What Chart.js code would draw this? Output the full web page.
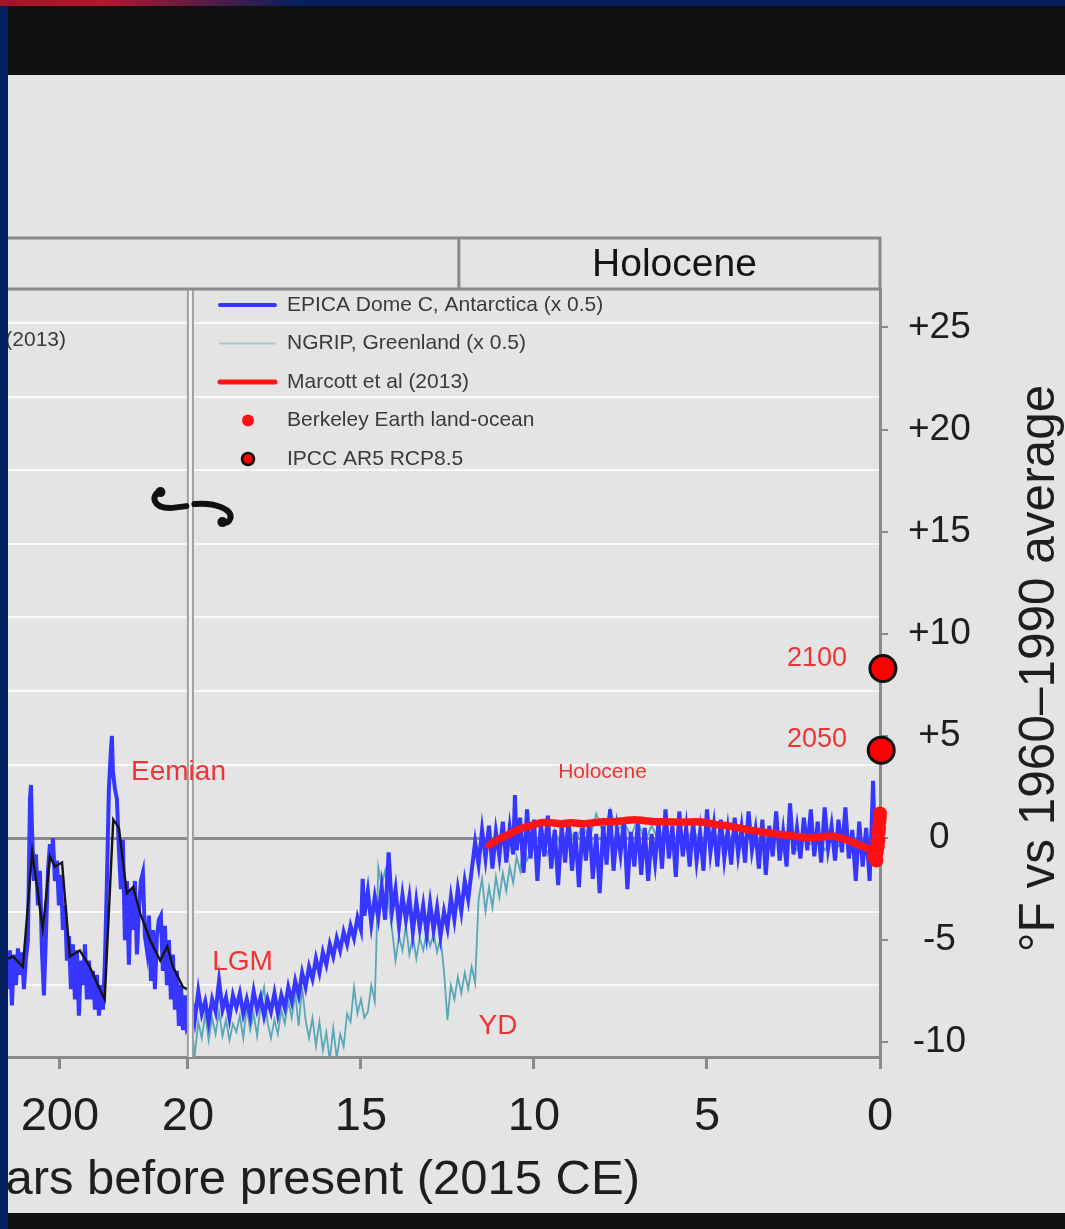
<!DOCTYPE html>
<html>
<head>
<meta charset="utf-8">
<script src="https://cdn.jsdelivr.net/npm/chart.js@4.4.1/dist/chart.umd.min.js"></script>
<style>
  html, body { margin: 0; padding: 0; }
  body { width: 1065px; height: 1229px; background: #04205e; position: relative; overflow: hidden; }
  #swoosh { position: absolute; left: 0; top: 0; width: 300px; height: 6px;
            background: linear-gradient(to right, #a0142a, #b3182c 35%, #04205e); }
  #topbar { position: absolute; left: 8px; top: 6px; width: 1057px; height: 69px; background: #101010; }
  #panel { position: absolute; left: 8px; top: 75px; width: 1057px; height: 1138px; background: #e4e4e4; }
  #bottombar { position: absolute; left: 8px; top: 1213px; width: 1057px; height: 16px; background: #101010; }
  canvas { display: block; }
</style>
</head>
<body>
<div id="swoosh"></div>
<div id="topbar"></div>
<div id="panel"><canvas id="chart" width="1057" height="1138"></canvas></div>
<div id="bottombar"></div>
<script>
// ages in thousands of years before 2015, temperatures in °F vs 1960-1990

const epicaAge = [
  273.1, 270.3, 267.5, 264.6, 261.8, 259.0, 256.2, 253.4, 250.6, 247.8,
  245.0, 242.1, 240.7, 239.3, 236.5, 233.7, 230.9, 228.1, 225.3, 222.5,
  219.7, 216.8, 214.0, 211.2, 209.8, 207.0, 204.2, 201.4, 198.6, 195.8,
  192.9, 190.1, 187.3, 184.5, 181.7, 178.9, 176.1, 173.3, 170.4, 167.6,
  164.8, 162.0, 159.2, 156.4, 153.6, 150.8, 147.9, 145.1, 142.3, 139.5,
  136.7, 133.9, 131.1, 128.3, 126.9, 125.5, 122.6, 119.8, 117.0, 114.2,
  111.4, 108.6, 105.8, 103.0, 100.1, 97.3, 94.5, 91.7, 88.9, 86.1,
  83.3, 80.5, 77.6, 74.8, 72.0, 69.2, 66.4, 63.6, 60.8, 58.0,
  55.2, 52.3, 49.5, 46.7, 43.9, 41.1, 38.3, 35.5, 32.7, 29.8,
  27.0, 24.2, 21.4,
  20.0, 19.9, 19.8, 19.7, 19.6, 19.5, 19.4, 19.3, 19.2, 19.1,
  19.0, 18.9, 18.8, 18.7, 18.6, 18.5, 18.4, 18.3, 18.2, 18.1,
  18.0, 17.9, 17.8, 17.7, 17.6, 17.5, 17.4, 17.3, 17.2, 17.1,
  17.0, 16.9, 16.8, 16.7, 16.6, 16.5, 16.4, 16.3, 16.2, 16.1,
  16.0, 15.9, 15.8, 15.7, 15.6, 15.5, 15.4, 15.3, 15.2, 15.1,
  15.0, 14.95, 14.9, 14.8, 14.7, 14.6, 14.5, 14.4, 14.3, 14.2,
  14.1, 14.0, 13.9, 13.8, 13.7, 13.6, 13.5, 13.4, 13.3, 13.2,
  13.1, 13.0, 12.9, 12.8, 12.7, 12.6, 12.5, 12.4, 12.3, 12.2,
  12.1, 12.0, 11.9, 11.8, 11.7, 11.6, 11.5, 11.4, 11.3, 11.2,
  11.1, 11.0, 10.9, 10.8, 10.7, 10.6, 10.55, 10.5, 10.4, 10.3,
  10.2, 10.1, 10.0, 9.9, 9.8, 9.7, 9.6, 9.5, 9.4, 9.3,
  9.2, 9.1, 9.0, 8.9, 8.8, 8.7, 8.6, 8.5, 8.4, 8.3,
  8.2, 8.1, 8.0, 7.9, 7.8, 7.7, 7.6, 7.5, 7.4, 7.3,
  7.2, 7.1, 7.0, 6.9, 6.8, 6.7, 6.6, 6.5, 6.4, 6.3,
  6.2, 6.1, 6.0, 5.9, 5.8, 5.7, 5.6, 5.5, 5.4, 5.3,
  5.2, 5.1, 5.0, 4.9, 4.8, 4.7, 4.6, 4.5, 4.4, 4.3,
  4.2, 4.1, 4.0, 3.9, 3.8, 3.7, 3.6, 3.5, 3.4, 3.3,
  3.2, 3.1, 3.0, 2.9, 2.8, 2.7, 2.6, 2.5, 2.4, 2.3,
  2.2, 2.1, 2.0, 1.9, 1.8, 1.7, 1.6, 1.5, 1.4, 1.3,
  1.2, 1.1, 1.0, 0.9, 0.8, 0.7, 0.6, 0.5, 0.4, 0.3,
  0.25, 0.2, 0.15
];
const epicaTemp = [
  -7.4, -5.5, -8.2, -5.7, -7.2, -5.4, -6.7, -5.6, -7.4, -5.9,
  -5.0, 1.9, 2.6, 0.4, -2.1, -0.8, -3.3, -1.6, -5.5, -7.7,
  -4.8, -1.6, -0.3, -1.1, 0.0, -2.1, -1.1, -3.3, -1.8, -4.5,
  -3.3, -6.0, -4.8, -7.4, -5.2, -7.9, -5.5, -8.7, -6.0, -7.2,
  -5.2, -7.9, -6.0, -7.9, -6.5, -8.4, -6.7, -8.7, -7.2, -8.4,
  -6.0, -2.1, 2.4, 4.3, 5.0, 3.3, 2.4, 1.9, -0.6, -2.5,
  -0.1, -5.0, -2.1, -6.2, -2.5, -4.5, -2.1, -5.7, -3.5, -2.1,
  -1.7, -4.8, -5.5, -3.8, -7.0, -4.5, -7.4, -4.8, -4.0, -3.8,
  -6.5, -4.3, -7.2, -5.0, -7.9, -5.7, -8.4, -6.5, -9.2, -7.2,
  -9.4, -7.7, -9.3,
  -9.2, -7.8, -8.9, -7.5, -8.6, -8.0, -9.0, -7.9, -8.5, -7.0,
  -8.4, -7.8, -8.8, -7.7, -8.3, -7.6, -8.6, -7.9, -8.7, -7.5,
  -8.4, -7.8, -8.7, -7.9, -8.5, -7.6, -8.6, -7.7, -8.3, -7.3,
  -8.0, -7.0, -7.7, -6.6, -7.3, -6.3, -6.9, -5.9, -6.6, -5.6,
  -6.2, -5.2, -5.8, -4.9, -5.5, -4.6, -5.2, -4.3, -4.9, -3.9,
  -4.5, -2.0, -3.8, -2.6, -4.2, -2.9, -3.9, -2.4, -4.0, -0.7,
  -3.6, -2.5, -4.3, -2.8, -4.0, -2.9, -4.6, -3.1, -4.4, -3.3,
  -4.7, -3.2, -4.5, -3.4, -4.8, -3.6, -4.4, -2.9, -4.0, -2.5,
  -3.6, -2.1, -3.0, -1.6, -0.2, -1.3, 0.4, -1.0, 0.6, -1.5,
  0.3, -0.9, 0.8, -1.2, 0.5, -0.8, 2.1, -0.6, 1.0, -1.7,
  1.4, -1.0, 0.9, -2.1, 0.7, -0.9, 1.1, -1.5, 0.4, -2.3,
  0.6, -1.2, 0.9, -1.6, 0.3, -2.4, 0.5, -1.1, 0.8, -2.0,
  0.2, -2.7, 0.6, -1.3, 1.4, -1.6, 0.4, -0.8, 0.9, -2.5,
  0.3, -1.4, 0.7, -1.8, 0.5, -2.1, 0.2, -1.2, 0.8, -1.5,
  1.4, -1.0, 0.6, -1.9, 1.3, -0.9, 0.5, -1.4, 0.8, -1.1,
  0.3, -1.6, 1.4, -0.7, 0.6, -1.4, 0.9, -1.0, 0.4, -1.3,
  1.0, -0.8, 0.5, -1.2, 1.3, -0.6, 0.4, -1.5, 0.9, -1.8,
  0.6, -0.9, 1.3, -1.1, 0.3, -1.4, 1.7, -0.8, 0.5, -1.0,
  1.0, -0.6, 1.4, -0.9, 0.8, -1.2, 1.5, -0.5, 0.6, -1.1,
  0.9, -0.7, 1.5, -1.0, 0.4, -2.1, 0.8, -1.4, 0.5, -2.1,
  0.2, 2.8, -0.5
];

// smoothed curve over the older glacial cycles
const smoothAge = [273, 266, 252, 239, 232, 224, 214, 207, 197, 186, 172, 158, 144,
                   137, 125, 117, 106, 97, 87, 73, 59, 49, 41, 27, 21];
const smoothTemp = [-5.9, -5.8, -6.3, -0.7, -2.4, -4.5, -0.9, -1.4, -1.2, -5.8, -5.5, -6.3, -7.4,
                    -7.9, 0.9, 0.5, -2.7, -2.4, -3.7, -5.0, -6.0, -5.3, -6.3, -7.3, -7.4];

const ngripAge = [
  20.0, 19.9, 19.8, 19.7, 19.6, 19.5, 19.4, 19.3, 19.2, 19.1,
  19.0, 18.9, 18.8, 18.7, 18.6, 18.5, 18.4, 18.3, 18.2, 18.1,
  18.0, 17.9, 17.8, 17.7, 17.6, 17.5, 17.4, 17.3, 17.2, 17.1,
  17.0, 16.9, 16.8, 16.7, 16.6, 16.5, 16.4, 16.3, 16.2, 16.1,
  16.0, 15.9, 15.8, 15.7, 15.6, 15.5, 15.4, 15.3, 15.2, 15.1,
  15.0, 14.9, 14.8, 14.7, 14.6, 14.55, 14.5, 14.4, 14.3, 14.2,
  14.1, 14.0, 13.9, 13.8, 13.7, 13.6, 13.5, 13.4, 13.3, 13.2,
  13.1, 13.0, 12.9, 12.8, 12.7, 12.6, 12.5, 12.4, 12.3, 12.2,
  12.1, 12.0, 11.9, 11.8, 11.7, 11.6, 11.5, 11.4, 11.3, 11.2,
  11.1, 11.0, 10.9, 10.8, 10.7, 10.6, 10.5, 10.4, 10.3, 10.2,
  10.0, 9.8, 9.6, 9.4, 9.2, 9.0, 8.8, 8.6, 8.4, 8.2,
  8.0, 7.8, 7.6, 7.4, 7.2, 7.0, 6.8, 6.6, 6.4, 6.2,
  6.0, 5.8, 5.6, 5.4, 5.2, 5.0, 4.8, 4.6, 4.4, 4.2,
  4.0, 3.8, 3.6, 3.4, 3.2, 3.0, 2.8, 2.6, 2.4, 2.2,
  2.0, 1.8, 1.6, 1.4, 1.2, 1.0, 0.8, 0.6
];
const ngripTemp = [
  -10.5, -9.2, -10.6, -9.0, -9.8, -8.6, -9.9, -8.8, -9.6, -8.5,
  -9.7, -8.9, -9.9, -9.1, -9.5, -8.7, -9.8, -8.3, -9.4, -8.6,
  -9.7, -8.2, -7.3, -9.0, -9.8, -8.9, -9.6, -8.4, -9.1, -8.0,
  -8.8, -7.6, -9.2, -7.3, -8.9, -9.8, -8.8, -10.2, -9.0, -10.4,
  -9.5, -10.9, -9.3, -10.8, -9.6, -10.2, -8.6, -9.0, -7.3, -8.6,
  -7.9, -8.8, -8.5, -7.2, -8.0, -5.0, -1.4, -2.3, -1.6, -3.2,
  -4.5, -6.0, -4.8, -5.5, -4.3, -5.7, -4.8, -5.9, -4.9, -5.5,
  -4.6, -5.3, -4.7, -5.6, -4.9, -6.5, -8.9, -7.2, -7.9, -6.8,
  -7.6, -6.6, -7.4, -6.3, -7.1, -3.0, -2.0, -3.6, -2.4, -3.4,
  -1.9, -2.9, -1.7, -2.6, -1.4, -2.2, -0.9, -1.6, -0.2, -1.1,
  -0.4, 0.2, -0.8, 0.4, -0.5, 0.6, -0.3, 0.7, -0.1, 1.2,
  0.2, 1.4, 0.3, 0.8, 0.1, 0.9, -0.2, 0.6, -0.1, 0.5,
  -0.3, 0.4, -0.2, 0.5, -0.4, 0.3, -0.3, 0.4, -0.2, 0.3,
  -0.4, 0.2, -0.3, 0.1, -0.5, 0.2, -0.4, 0.0, -0.6, 0.1,
  -0.3, -0.1, -0.6, 0.0, -0.4, -0.1, -0.5, 0.0
];

const marcottAge = [11.3, 11.0, 10.7, 10.4, 10.1, 9.8, 9.5, 9.2, 8.9, 8.6,
                    8.3, 8.0, 7.7, 7.4, 7.1, 6.8, 6.5, 6.2, 5.9, 5.6,
                    5.3, 5.0, 4.7, 4.4, 4.1, 3.8, 3.5, 3.2, 2.9, 2.6,
                    2.3, 2.0, 1.7, 1.4, 1.1, 0.8, 0.5, 0.3, 0.15];
const marcottTemp = [-0.35, -0.05, 0.2, 0.45, 0.6, 0.75, 0.75, 0.7, 0.75, 0.7,
                     0.75, 0.8, 0.8, 0.85, 0.9, 0.85, 0.8, 0.8, 0.78, 0.78,
                     0.8, 0.75, 0.65, 0.6, 0.5, 0.4, 0.32, 0.25, 0.18, 0.12,
                     0.05, 0.02, 0.05, 0.1, 0.0, -0.2, -0.4, -0.55, -0.6];

const berkeleyYear = [1850, 1860, 1870, 1880, 1890, 1900, 1910, 1920, 1930,
                      1940, 1950, 1960, 1970, 1980, 1990, 2000, 2010, 2015];
const berkeleyTemp = [-0.9, -0.8, -0.7, -0.8, -1.0, -0.8, -1.1, -0.7, -0.5,
                      -0.2, -0.4, -0.1, -0.1, 0.3, 0.5, 0.8, 1.0, 1.2];

const ipccYear = [2050, 2100];
const ipccTemp = [4.3, 8.3];

const xTickAges = [200, 20, 15, 10, 5, 0];
const yTickValues = [-10, -5, 0, 5, 10, 15, 20, 25];

const FONT = '"Liberation Sans", Arial, sans-serif';
const TEXT = '#1e1e1e';
const AXIS = '#8a8a8a';
const NOTE = '#ee3535';

// the last 20 kyr get a wide scale, everything older is squeezed
class BrokenAgeScale extends Chart.LinearScale {
  warp(age) {
    const b = this.options.breakAt;
    return age <= b ? age : b + (age - b) * this.options.oldScale;
  }
  getPixelForValue(value) {
    return this.getPixelForDecimal(1 - this.warp(value) / this.warp(this.max));
  }
  getValueForPixel(pixel) {
    const w = (1 - this.getDecimalForPixel(pixel)) * this.warp(this.max);
    const b = this.options.breakAt;
    return w <= b ? w : b + (w - b) / this.options.oldScale;
  }
}
BrokenAgeScale.id = 'brokenAge';
BrokenAgeScale.defaults = Chart.LinearScale.defaults;
Chart.register(BrokenAgeScale);

const pts = (xs, ys) => xs.map((x, i) => ({ x: x, y: ys[i] }));
const yearToAge = yr => (2015 - yr) / 1000;

const tempMin = -10.72, tempMax = 26.88;

const notes = [
  { text: 'Eemian', age: 100, temp: 3.2, size: 28, align: 'left' },
  { text: 'LGM', age: 19.3, temp: -6.1, size: 28, align: 'left' },
  { text: 'YD', age: 11.6, temp: -9.2, size: 28, align: 'left' },
  { text: 'Holocene', age: 9.3, temp: 3.2, size: 21, align: 'left' },
  { text: '2100', age: 0.95, temp: 8.8, size: 27, align: 'right' },
  { text: '2050', age: 0.95, temp: 4.8, size: 27, align: 'right' }
];

const legendItems = [
  'EPICA Dome C, Antarctica (x 0.5)',
  'NGRIP, Greenland (x 0.5)',
  'Marcott et al (2013)',
  'Berkeley Earth land-ocean',
  'IPCC AR5 RCP8.5'
];

function write(ctx, text, x, y, size, color, align) {
  ctx.font = size + 'px ' + FONT;
  ctx.fillStyle = color;
  ctx.textAlign = align || 'left';
  ctx.textBaseline = 'middle';
  ctx.fillText(text, x, y);
}

const decor = {
  id: 'decor',
  afterDatasetsDraw(chart) {
    const { ctx, chartArea: a, scales: { x, y } } = chart;
    const bx = x.getPixelForValue(20);
    ctx.save();
    // axis break
    ctx.fillStyle = '#f3f3f3';
    ctx.fillRect(bx, a.top, 5, a.bottom - a.top);
    ctx.strokeStyle = '#a0a0a0';
    ctx.lineWidth = 2;
    [bx, bx + 5].forEach(px => {
      ctx.beginPath();
      ctx.moveTo(px, a.top);
      ctx.lineTo(px, a.bottom);
      ctx.stroke();
    });
    // break symbol
    const cx = bx + 2.5, cy = y.getPixelForValue(16.3);
    ctx.strokeStyle = '#111';
    ctx.fillStyle = '#111';
    ctx.lineCap = 'round';
    ctx.lineWidth = 6;
    ctx.beginPath();
    ctx.moveTo(cx - 30, cy - 14);
    ctx.bezierCurveTo(cx - 40, cy - 10, cx - 38, cy + 3, cx - 20, cy + 3);
    ctx.lineTo(cx - 4, cy + 1);
    ctx.stroke();
    ctx.beginPath();
    ctx.moveTo(cx + 4, cy - 1);
    ctx.bezierCurveTo(cx + 24, cy - 3, cx + 42, cy + 4, cx + 40, cy + 13);
    ctx.quadraticCurveTo(cx + 38, cy + 19, cx + 32, cy + 17);
    ctx.stroke();
    [[cx - 30, cy - 13], [cx + 32, cy + 17]].forEach(p => {
      ctx.beginPath();
      ctx.arc(p[0], p[1], 5, 0, Math.PI * 2);
      ctx.fill();
    });
    ctx.restore();
  },
  afterDraw(chart) {
    const { ctx, chartArea: a, scales: { x, y } } = chart;
    ctx.save();

    // period header above the plot
    const hTop = a.top - 51;
    const dx = x.getPixelForValue(12.17);
    ctx.strokeStyle = AXIS;
    ctx.lineWidth = 3;
    ctx.strokeRect(a.left - 10, hTop, a.right - a.left + 10, 51);
    ctx.beginPath();
    ctx.moveTo(dx, hTop);
    ctx.lineTo(dx, a.top);
    ctx.stroke();
    write(ctx, 'Holocene', (dx + a.right) / 2 + 5, hTop + 27, 39, '#141414', 'center');

    // legend
    const ds = chart.data.datasets;
    const rows = [16, 54.5, 93, 131.5, 170];
    legendItems.forEach((name, i) => {
      const d = ds.find(s => s.label === name);
      const ly = a.top + rows[i];
      if (d.showLine === false) {
        ctx.beginPath();
        ctx.arc(a.left + 240, ly, 6, 0, Math.PI * 2);
        ctx.fillStyle = d.pointBackgroundColor;
        ctx.fill();
        if (d.pointBorderWidth) {
          ctx.lineWidth = 2.5;
          ctx.strokeStyle = d.pointBorderColor;
          ctx.stroke();
        }
      } else {
        ctx.beginPath();
        ctx.moveTo(a.left + 212, ly);
        ctx.lineTo(a.left + 267, ly);
        ctx.strokeStyle = d.legendColor || d.borderColor;
        ctx.lineWidth = Math.min(d.borderWidth, 5);
        ctx.lineCap = 'round';
        ctx.stroke();
      }
      write(ctx, name, a.left + 279, ly, 21, '#3a3a3a', 'left');
    });
    write(ctx, '(2013)', a.left + 58, a.top + 51, 21, '#3a3a3a', 'right');

    // event labels
    notes.forEach(n => {
      write(ctx, n.text, x.getPixelForValue(n.age), y.getPixelForValue(n.temp), n.size, NOTE, n.align);
    });

    // axis titles
    write(ctx, 'Thousands of years before present (2015 CE)', a.left + 632, a.bottom + 123, 49, TEXT, 'right');
    ctx.translate(a.right + 160, y.getPixelForValue(8.3));
    ctx.rotate(-Math.PI / 2);
    write(ctx, '°F vs 1960–1990 average', 0, 0, 49.5, TEXT, 'center');
    ctx.restore();
  }
};

new Chart(document.getElementById('chart'), {
  type: 'line',
  data: {
    datasets: [
      {
        label: 'IPCC AR5 RCP8.5',
        data: pts(ipccYear.map(yearToAge), ipccTemp),
        showLine: false,
        pointRadius: 13,
        pointBackgroundColor: '#ff0000',
        pointBorderColor: '#111111',
        pointBorderWidth: 3,
        clip: false,
        order: 0
      },
      {
        label: 'Berkeley Earth land-ocean',
        data: pts(berkeleyYear.map(yearToAge), berkeleyTemp),
        showLine: false,
        pointRadius: 7,
        pointBorderWidth: 0,
        pointBackgroundColor: '#ff1010',
        clip: false,
        order: 1
      },
      {
        label: 'Marcott et al (2013)',
        data: pts(marcottAge, marcottTemp),
        borderColor: '#ff1414',
        borderWidth: 7.5,
        borderCapStyle: 'round',
        borderJoinStyle: 'round',
        pointRadius: 0,
        tension: 0.3,
        order: 2
      },
      {
        label: 'Smoothed (2013)',
        data: pts(smoothAge, smoothTemp),
        borderColor: '#151515',
        borderWidth: 2.4,
        pointRadius: 0,
        order: 3
      },
      {
        label: 'EPICA Dome C, Antarctica (x 0.5)',
        data: pts(epicaAge, epicaTemp),
        borderColor: '#3636ff',
        borderWidth: 4,
        pointRadius: 0,
        order: 4
      },
      {
        label: 'NGRIP, Greenland (x 0.5)',
        data: pts(ngripAge, ngripTemp),
        borderColor: '#58a6b8',
        legendColor: '#a6c8c8',
        borderWidth: 1.8,
        pointRadius: 0,
        order: 5
      }
    ]
  },
  options: {
    responsive: false,
    devicePixelRatio: 1,
    animation: false,
    events: [],
    layout: { autoPadding: false, padding: { top: 214, left: 0, right: 0, bottom: 0 } },
    plugins: { legend: { display: false }, tooltip: { enabled: false } },
    scales: {
      x: {
        type: 'brokenAge',
        min: 0,
        max: 273,
        breakAt: 20,
        oldScale: 0.02055,
        afterBuildTicks: s => { s.ticks = xTickAges.map(v => ({ value: v })); },
        afterFit: s => { s.height = 156; s.paddingLeft = 0; s.paddingRight = 0; },
        border: { color: AXIS, width: 3 },
        grid: { drawOnChartArea: false, tickLength: 12, color: AXIS, lineWidth: 3 },
        ticks: {
          autoSkip: false,
          maxRotation: 0,
          padding: 20,
          color: TEXT,
          font: { family: FONT, size: 47 },
          callback: v => String(v)
        }
      },
      y: {
        position: 'right',
        min: tempMin,
        max: tempMax,
        afterBuildTicks: s => { s.ticks = yTickValues.map(v => ({ value: v })); },
        afterFit: s => { s.width = 185; },
        border: { color: AXIS, width: 3 },
        grid: { drawOnChartArea: false, tickLength: 8, color: AXIS, lineWidth: 2 },
        ticks: {
          crossAlign: 'center',
          padding: 20,
          color: TEXT,
          font: { family: FONT, size: 37 },
          callback: v => (v > 0 ? '+' + v : String(v))
        }
      },
      // 2 °C grid behind the curves
      yc: {
        position: 'left',
        min: tempMin / 1.8,
        max: tempMax / 1.8,
        afterFit: s => { s.width = 0; },
        border: { display: false },
        grid: {
          drawTicks: false,
          color: c => (c.tick.value === 0 ? AXIS : 'rgba(255,255,255,0.8)'),
          lineWidth: c => (c.tick.value === 0 ? 3 : 2)
        },
        ticks: { display: false, stepSize: 2, includeBounds: false }
      }
    }
  },
  plugins: [decor]
});
</script>
</body>
</html>
